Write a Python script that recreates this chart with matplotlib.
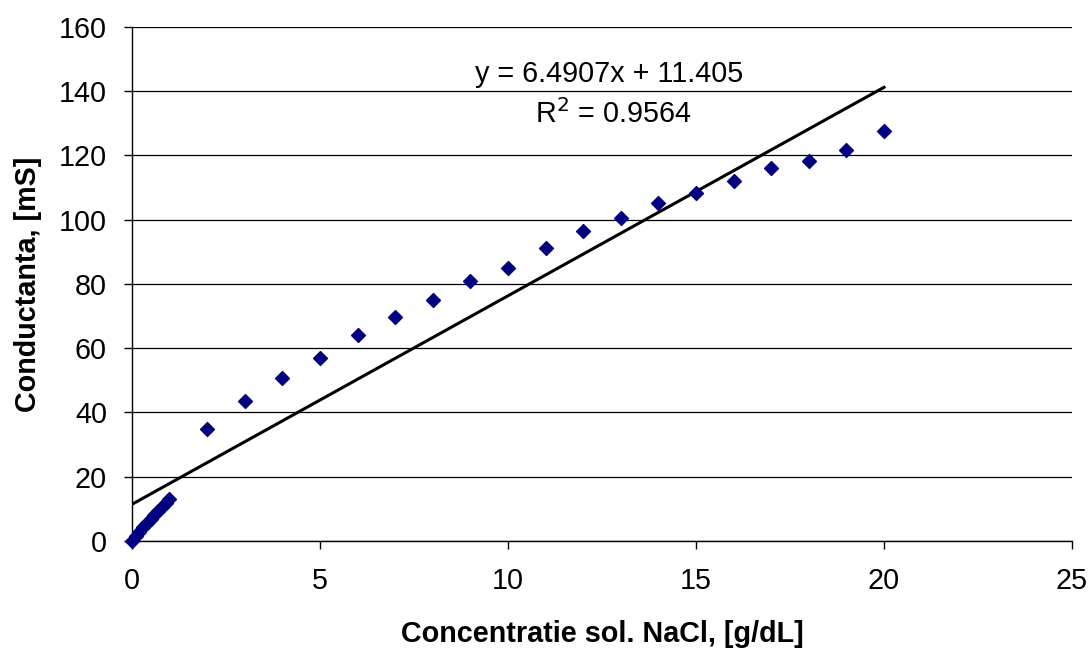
import matplotlib
matplotlib.use("Agg")
import matplotlib.pyplot as plt
import numpy as np

plt.rcParams['font.family'] = ['Liberation Sans', 'DejaVu Sans']

# Measured conductance of NaCl solutions
conc_low = [0.0, 0.1, 0.2, 0.3, 0.4, 0.5, 0.6, 0.7, 0.8, 0.9, 1.0]
cond_low = [0.0, 1.5, 2.9, 4.3, 5.6, 6.9, 8.1, 9.3, 10.5, 11.8, 13.0]
conc_high = [2, 3, 4, 5, 6, 7, 8, 9, 10, 11, 12, 13, 14, 15, 16, 17, 18, 19, 20]
cond_high = [35.0, 43.6, 50.7, 57.0, 64.0, 69.7, 75.0, 81.0, 85.0, 91.2,
             96.5, 100.5, 105.2, 108.3, 112.0, 116.0, 118.3, 121.7, 127.6]

# Linear trendline coefficients
slope = 6.4907
intercept = 11.405
r_squared = 0.9564

x_ticks = [0, 5, 10, 15, 20, 25]
y_ticks = [0, 20, 40, 60, 80, 100, 120, 140, 160]

conc = conc_low + conc_high
cond = cond_low + cond_high

FS = 20.7

fig = plt.figure(figsize=(10.9, 6.5), dpi=100)
ax = fig.add_axes([0.121, 0.1677, 0.8625, 0.7908])

ax.set_xlim(0, 25)
ax.set_ylim(0, 160)
ax.set_xticks(x_ticks)
ax.set_yticks(y_ticks)
ax.yaxis.grid(True, color='black', linewidth=0.9)
ax.set_axisbelow(True)

ax.scatter(conc, cond, marker='D', s=50, color='#000080', zorder=3, clip_on=False)

xt = np.array([0, max(conc)])
ax.plot(xt, slope * xt + intercept, color='black', linewidth=2.2, zorder=2)

ax.text(12.7, 145.5, f'y = {slope}x + {intercept}', fontsize=FS, ha='center', va='center')
ax.text(12.8, 133.0, f'R$^2$ = {r_squared}', fontsize=FS, ha='center', va='center')

for side in ['right', 'top']:
    ax.spines[side].set_visible(False)
for side in ['left', 'bottom']:
    ax.spines[side].set_color('black')
    ax.spines[side].set_linewidth(1.0)

ax.tick_params(axis='both', direction='out', length=6, width=1, labelsize=FS, colors='black')
ax.tick_params(axis='x', pad=13)
ax.tick_params(axis='y', pad=12)

ax.set_xlabel('Concentratie sol. NaCl, [g/dL]', fontsize=FS, fontweight='bold', labelpad=18)
ax.set_ylabel('Conductanta, [mS]', fontsize=FS, fontweight='bold', labelpad=12)

fig.savefig('out.png', dpi=100, facecolor='white')
